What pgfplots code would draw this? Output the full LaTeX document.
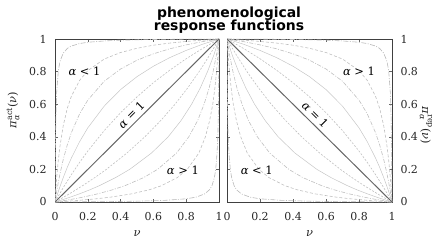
\documentclass[border=0pt]{standalone}
\usepackage{fontspec}
\setmainfont{DejaVu Serif}
\newfontfamily\titlefont{DejaVu Sans}
\usepackage{amsmath}
\usepackage{pgfplots}
\pgfplotsset{compat=1.18}
\usepackage{pgfplotstable}

% response curves for alpha < 1 (columns a..e); alpha > 1 are the same with axes swapped
\pgfplotstableread{
x      a      b      c      d      e
0      0      0      0      0      0
0.0025 0.334  0.040  0.0164 0.0083 0.00454
0.005  0.501  0.077  0.0324 0.0165 0.00905
0.01   0.669  0.144  0.0631 0.0326 0.0180
0.02   0.803  0.254  0.120  0.0637 0.0358
0.03   0.861  0.340  0.171  0.0935 0.0532
0.05   0.913  0.467  0.260  0.149  0.0873
0.075  0.942  0.575  0.351  0.213  0.128
0.1    0.957  0.649  0.426  0.270  0.168
0.15   0.972  0.746  0.541  0.370  0.243
0.2    0.980  0.806  0.625  0.455  0.3125
0.3    0.988  0.877  0.741  0.588  0.438
0.4    0.993  0.917  0.816  0.690  0.548
0.5    0.995  0.943  0.870  0.769  0.645
0.6    0.997  0.962  0.909  0.833  0.732
0.7    0.998  0.975  0.940  0.886  0.809
0.8    0.999  0.985  0.964  0.930  0.879
0.9    0.9994 0.993  0.984  0.968  0.942
1      1      1      1      1      1
}\curves

\newcommand{\ia}{\textit{α}}

\begin{document}
\begin{tikzpicture}[x=1bp,y=1bp]
\useasboundingbox (0,0) rectangle (440,245);
\pgfplotsset{
  panel/.style={scale only axis, height=163bp,
    xmin=0,xmax=1,ymin=0,ymax=1,
    xtick={0,0.2,0.4,0.6,0.8,1}, ytick={0,0.2,0.4,0.6,0.8,1},
    tick align=inside, xtick pos=both, ytick pos=both, major tick length=3bp,
    axis line style={black!75, line width=0.8pt},
    tick style={black!60, line width=0.5pt},
    ticklabel style={font=\fontsize{11}{11}\selectfont, /pgf/number format/assume math mode=true, text=black!85},
    label style={font=\fontsize{11.5}{11.5}\selectfont, text=black!85},
    xlabel={\textit{ν}},
    xticklabel style={yshift=-7bp},
    xlabel style={yshift=-3bp},
  },
  ca/.style={gray!55, line width=0.6pt, dash pattern=on 5pt off 1.5pt on 1pt off 1.5pt},
  cb/.style={gray!50, line width=0.6pt, dash pattern=on 3pt off 2pt},
  cc/.style={gray!50, line width=0.6pt, dash pattern=on 4pt off 1.5pt on 1pt off 1.5pt},
  cd/.style={gray!45, line width=0.5pt},
  ce/.style={gray!50, line width=0.6pt, dash pattern=on 2pt off 1.5pt},
  cdiag/.style={black!60, line width=1pt},
}
% left panel
\begin{axis}[panel, width=164bp, at={(55bp,43bp)}, anchor=south west,
  ylabel={\textit{π}$^{\text{act}}_{\textit{α}}$(\textit{ν})},
  yticklabel style={xshift=-5bp},
  ylabel style={at={(axis description cs:-0.256,0.564)}, anchor=center}]
\addplot[ca] table[x=x,y=a] {\curves};
\addplot[cb] table[x=x,y=b] {\curves};
\addplot[cc] table[x=x,y=c] {\curves};
\addplot[cd] table[x=x,y=d] {\curves};
\addplot[ce] table[x=x,y=e] {\curves};
\addplot[ca] table[x=a,y=x] {\curves};
\addplot[cb] table[x=b,y=x] {\curves};
\addplot[cc] table[x=c,y=x] {\curves};
\addplot[cd] table[x=d,y=x] {\curves};
\addplot[ce] table[x=e,y=x] {\curves};
\addplot[cdiag] coordinates {(0,0) (1,1)};
\node[font=\fontsize{11.5}{11.5}\selectfont] at (axis cs:0.18,0.80) {\ia{} < 1};
\node[font=\fontsize{11.5}{11.5}\selectfont] at (axis cs:0.78,0.196) {\ia{} > 1};
\node[font=\fontsize{11.5}{11.5}\selectfont, rotate=45] at (axis cs:0.465,0.535) {\ia{} = 1};
\end{axis}
% right panel
\begin{axis}[panel, width=165bp, at={(227bp,43bp)}, anchor=south west,
  yticklabel pos=right, ytick pos=both,
  ylabel={\textit{π}$^{\text{rep}}_{\textit{α}}$(\textit{ν})},
  yticklabel style={xshift=5bp},
  ylabel style={at={(axis description cs:1.206,0.47)}, anchor=center, rotate=180}]
\addplot[ca] table[x expr=1-\thisrow{x},y=a] {\curves};
\addplot[cb] table[x expr=1-\thisrow{x},y=b] {\curves};
\addplot[cc] table[x expr=1-\thisrow{x},y=c] {\curves};
\addplot[cd] table[x expr=1-\thisrow{x},y=d] {\curves};
\addplot[ce] table[x expr=1-\thisrow{x},y=e] {\curves};
\addplot[ca] table[x expr=1-\thisrow{a},y=x] {\curves};
\addplot[cb] table[x expr=1-\thisrow{b},y=x] {\curves};
\addplot[cc] table[x expr=1-\thisrow{c},y=x] {\curves};
\addplot[cd] table[x expr=1-\thisrow{d},y=x] {\curves};
\addplot[ce] table[x expr=1-\thisrow{e},y=x] {\curves};
\addplot[cdiag] coordinates {(0,1) (1,0)};
\node[font=\fontsize{11.5}{11.5}\selectfont] at (axis cs:0.80,0.80) {\ia{} > 1};
\node[font=\fontsize{11.5}{11.5}\selectfont] at (axis cs:0.18,0.196) {\ia{} < 1};
\node[font=\fontsize{11.5}{11.5}\selectfont, rotate=-45] at (axis cs:0.535,0.535) {\ia{} = 1};
\end{axis}
\node[font=\titlefont\bfseries\fontsize{14}{14}\selectfont, anchor=base] at (229,228) {phenomenological};
\node[font=\titlefont\bfseries\fontsize{14}{14}\selectfont, anchor=base] at (229,215) {response functions};
\end{tikzpicture}
\end{document}
